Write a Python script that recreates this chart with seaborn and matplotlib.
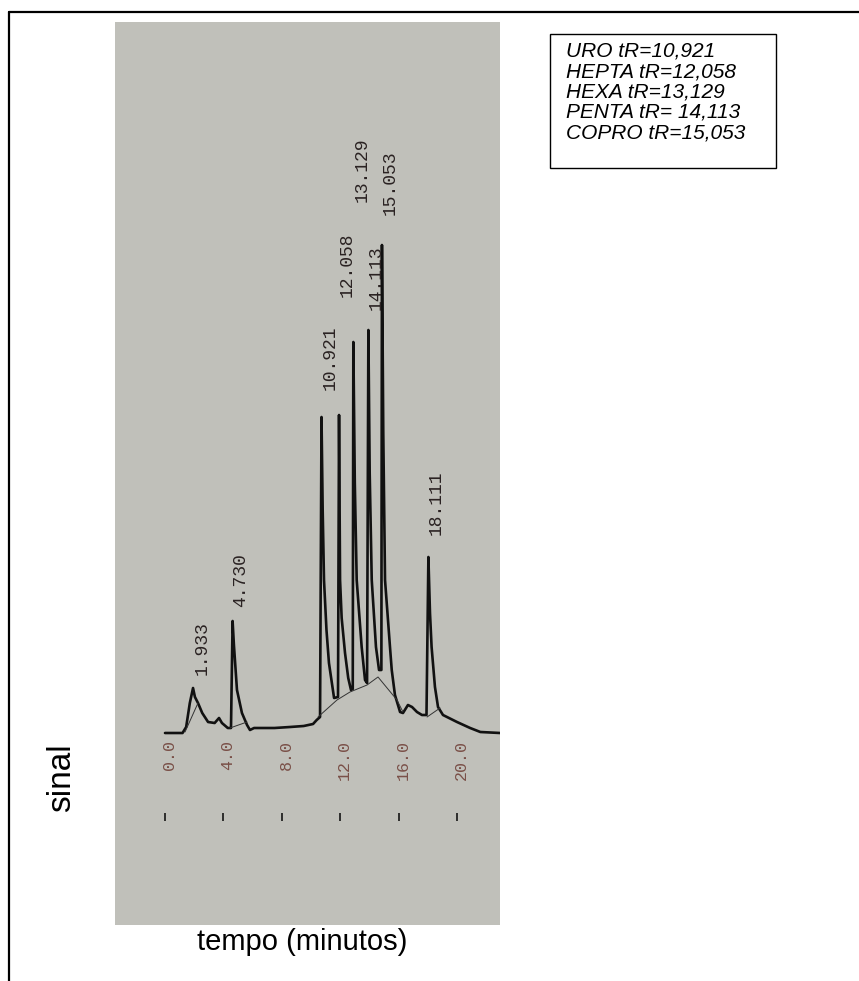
import matplotlib
matplotlib.use("Agg")
import matplotlib.pyplot as plt
import numpy as np
import pandas as pd
import seaborn as sns
from matplotlib.lines import Line2D
from matplotlib.patches import Rectangle

# chromatogram trace (tempo in minutes, sinal in arbitrary units)
tempo = [0.00, 1.20, 1.45, 1.70, 1.92, 2.05, 2.26, 2.55, 2.95, 3.40, 3.70, 3.90,
         4.30, 4.52, 4.63, 4.72, 4.93, 5.27, 5.62, 5.82, 6.10, 7.50, 8.56, 9.50,
         10.14, 10.39, 10.62, 10.72, 10.80, 10.89, 11.06, 11.23, 11.58, 11.85,
         11.92, 11.99, 12.10, 12.33, 12.55, 12.74, 12.86, 12.90, 13.00, 13.13,
         13.47, 13.70, 13.84, 13.93, 14.02, 14.16, 14.45, 14.66, 14.82, 14.86,
         14.95, 15.07, 15.41, 15.53, 15.75, 16.10, 16.30, 16.64, 16.92, 17.26,
         17.60, 17.91, 18.04, 18.15, 18.26, 18.49, 18.70, 19.04, 20.00, 20.90,
         21.60, 22.95]
sinal = [0, 0, 6, 30, 45, 36, 30, 20, 11, 10, 15, 10,
         5, 5, 112, 88, 43, 20, 8, 3, 5, 5, 6, 7,
         9, 13, 16, 316, 223, 153, 103, 70, 35, 36,
         318, 153, 115, 80, 55, 43, 44, 391, 250, 153,
         86, 53, 50, 403, 260, 153, 86, 63, 63, 488,
         300, 153, 86, 63, 38, 21, 20, 28, 26, 21,
         18, 18, 176, 120, 86, 46, 26, 18, 11, 5,
         1, 0]

# integration baselines drawn by the integrator
base_id = ["a", "a", "b", "b", "c", "c", "c", "c", "c", "c", "c", "d", "d"]
base_t = [1.37, 2.26, 4.45, 5.62, 10.48, 11.78, 12.67, 13.84, 14.59, 15.89, 16.30, 17.95, 18.84]
base_s = [1, 30, 5, 11, 16, 33, 41, 48, 56, 33, 21, 16, 25]

# retention time labels printed above the peaks
picos = ["1.933", "4.730", "10.921", "12.058", "13.129", "14.113", "15.053", "18.111"]
ticks = [0.0, 4.0, 8.0, 12.0, 16.0, 20.0]
tick_labels = ["0.0", "4.0", "8.0", "12.0", "16.0", "20.0"]

legenda = ["URO tR=10,921", "HEPTA tR=12,058", "HEXA tR=13,129",
           "PENTA tR= 14,113", "COPRO tR=15,053"]

W, H = 859, 981
fx = lambda px: px / W
fy = lambda py: 1 - py / H

sns.set_theme(style="white")
plt.rcParams["font.family"] = ["Liberation Sans", "DejaVu Sans"]

fig = plt.figure(figsize=(W / 100, H / 100), dpi=100)
fig.patch.set_facecolor("white")

# gray scanned area
ax = fig.add_axes([fx(115), fy(925), (500 - 115) / W, (925 - 22) / H])
ax.set_facecolor("#c0c0ba")
for sp in ax.spines.values():
    sp.set_visible(False)
ax.set_xticks([])
ax.set_yticks([])
ax.set_xlim((115 - 165) / 14.6, (500 - 165) / 14.6)
ax.set_ylim(733 - 925, 733 - 22)

trace = pd.DataFrame({"tempo": tempo, "sinal": sinal})
sns.lineplot(data=trace, x="tempo", y="sinal", sort=False, estimator=None,
             color="#111111", lw=1.9, ax=ax)

bases = pd.DataFrame({"id": base_id, "tempo": base_t, "sinal": base_s})
sns.lineplot(data=bases, x="tempo", y="sinal", units="id", sort=False,
             estimator=None, color="#333333", lw=0.7, ax=ax)
ax.set_xlabel("")
ax.set_ylabel("")

# peak labels (positions)
lab_x = [2.53, 5.21, 11.30, 12.47, 13.49, 14.45, 15.41, 18.56]
lab_y = [58, 126, 343, 436, 531, 423, 518, 198]
for txt, x, y in zip(picos, lab_x, lab_y):
    ax.text(x, y, txt, rotation=90, ha="center", va="bottom",
            family="Liberation Mono", fontsize=13, color="#2a2222")

# printed time scale
for t, lbl in zip(ticks, tick_labels):
    ax.text(t + 0.3, -7, lbl, rotation=90, ha="center", va="top",
            family="Liberation Mono", fontsize=12, color="#7a5048")
ax.plot(ticks, [-84] * len(ticks), ls="none", marker="|", ms=6,
        mew=1.3, color="#222222")

# outer frame of the original figure
fig.add_artist(Line2D([fx(9), 1.0], [fy(12), fy(12)], color="black", lw=1.6))
fig.add_artist(Line2D([fx(9), fx(9)], [fy(12), 0.0], color="black", lw=1.6))

# legend box
fig.add_artist(Rectangle((fx(550), fy(168)), (776 - 550) / W, (168 - 34) / H,
                         fill=False, ec="black", lw=1.0, transform=fig.transFigure))
for i, line in enumerate(legenda):
    fig.text(fx(566), fy(51 + 20.5 * i), line, style="italic", fontsize=15,
             va="center", ha="left", color="black")

fig.text(fx(62), fy(778), "sinal", rotation=90, ha="center", va="center",
         fontsize=24, color="black")
fig.text(fx(302), fy(942), "tempo (minutos)", ha="center", va="center",
         fontsize=21, color="black")

fig.savefig("out.png", dpi=100, facecolor="white")
